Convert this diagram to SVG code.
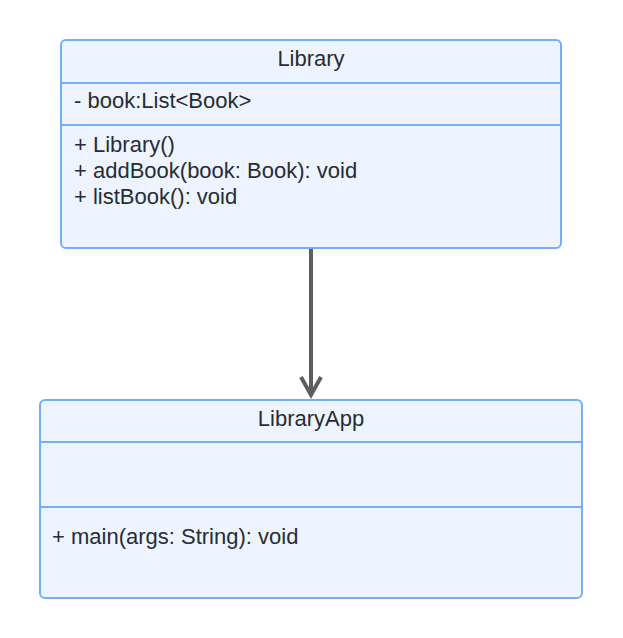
<svg xmlns="http://www.w3.org/2000/svg" width="623" height="638" viewBox="0 0 623 638">
<style>
.box{fill:#EDF4FF;stroke:#72AFF8;stroke-width:2}
.div{stroke:#72AFF8;stroke-width:2}
text{font-family:"Liberation Sans",Arial,sans-serif;font-size:22px;fill:#282C33}
.title{text-anchor:middle}
.conn{stroke:#5E5E5E;stroke-width:4;fill:none}
</style>
<rect width="623" height="638" fill="#FFFFFF"/>
<g id="Library">
<rect class="box" x="61" y="40" width="500" height="208" rx="5"/>
<line class="div" x1="61" y1="83" x2="561" y2="83"/>
<line class="div" x1="61" y1="125" x2="561" y2="125"/>
<text class="title" x="311" y="66">Library</text>
<text x="74" y="108">- book:List&lt;Book&gt;</text>
<text x="74" y="152">+ Library()</text>
<text x="74" y="178">+ addBook(book: Book): void</text>
<text x="74" y="204">+ listBook(): void</text>
</g>
<g id="LibraryApp">
<rect class="box" x="40" y="400" width="542" height="198" rx="5"/>
<line class="div" x1="40" y1="442" x2="582" y2="442"/>
<line class="div" x1="40" y1="507" x2="582" y2="507"/>
<text class="title" x="311" y="426">LibraryApp</text>
<text x="52" y="544">+ main(args: String): void</text>
</g>
<g id="connectors">
<line class="conn" x1="311" y1="249" x2="311" y2="395"/>
<polyline class="conn" points="301,377 311,395 321,377"/>
</g>
</svg>
